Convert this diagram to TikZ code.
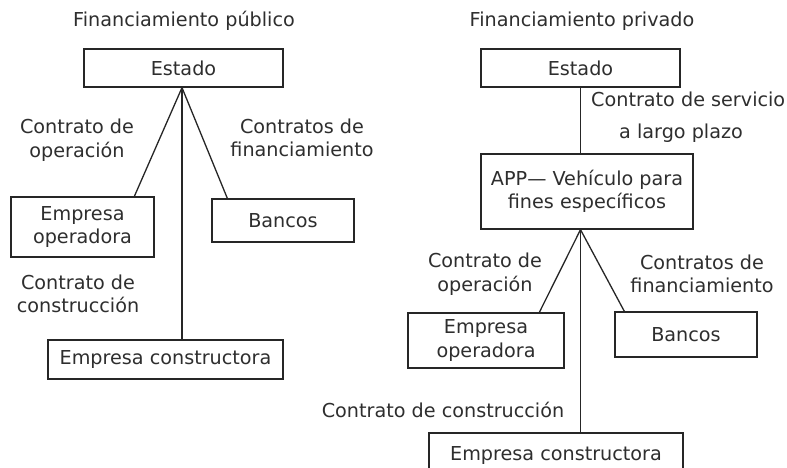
\documentclass[tikz,border=0pt]{standalone}
\usepackage{fontspec}
\setmainfont{DejaVu Sans}
\usetikzlibrary{calc}
\begin{document}
\begin{tikzpicture}[x=1pt,y=-1pt,
  every node/.style={text=black!82,font=\fontsize{19.2}{23.5}\selectfont},
  box/.style={draw=black!85,line width=1.3pt,rectangle,inner sep=0pt,align=center},
  lbl/.style={align=center,inner sep=0pt},
  link/.style={draw=black!85,line width=1.3pt}]
\useasboundingbox[fill=white] (0,0) rectangle (787,468);
% titles
\node[lbl] (t1) at (184,21) {Financiamiento público};
\node[lbl] (t2) at (582,21) {Financiamiento privado};
% left diagram
\node[box,minimum width=199pt,minimum height=38pt] (est1) at (183.5,68) {Estado};
\node[box,minimum width=143pt,minimum height=60pt] (eo1) at (82.5,227) {Empresa\\operadora};
\node[box,minimum width=142pt,minimum height=43pt] (ban1) at (283,220.5) {Bancos};
\node[box,minimum width=235pt,minimum height=39pt] (ec1) at (165.5,359.5) {Empresa constructora};
\coordinate (a1) at ($(est1.south)+(-1.5,0)$);
\draw[link] (a1) -- ($(eo1.north west)+(124,0)$);
\draw[link] (a1) -- ($(ban1.north west)+(16,0)$);
\draw[link] (a1) -- (ec1.north -| a1);
\node[lbl] (l1) at (77,140) {Contrato de\\operación};
\node[lbl] (l2) at (302,138) {Contratos de\\financiamiento};
\node[lbl] (l3) at (78,294) {Contrato de\\construcción};
% right diagram
\node[box,minimum width=199pt,minimum height=38pt] (est2) at (580.5,68) {Estado};
\node[box,minimum width=212pt,minimum height=75pt] (app) at (587,191.5) {APP— Vehículo para\\fines específicos};
\node[box,minimum width=156pt,minimum height=55pt] (eo2) at (486,340.5) {Empresa\\operadora};
\node[box,minimum width=142pt,minimum height=45pt] (ban2) at (686,334.5) {Bancos};
\node[box,minimum width=254pt,minimum height=44pt] (ec2) at (556,455) {Empresa constructora};
\coordinate (a2) at (app.south -| est2.south);
\draw[link] (est2.south) -- (app.north -| est2.south);
\draw[link] (a2) -- ($(eo2.north west)+(132,0)$);
\draw[link] (a2) -- ($(ban2.north west)+(10,0)$);
\draw[link] (a2) -- (ec2.north -| a2);
\node[lbl,align=left,anchor=north west] (l4) at (591,92) {Contrato de servicio\\[8pt]\hspace*{28pt}a largo plazo};
\node[lbl] (l5) at (485,274) {Contrato de\\operación};
\node[lbl] (l6) at (702,274) {Contratos de\\financiamiento};
\node[lbl] (l7) at (443,410) {Contrato de construcción};
\end{tikzpicture}
\end{document}
